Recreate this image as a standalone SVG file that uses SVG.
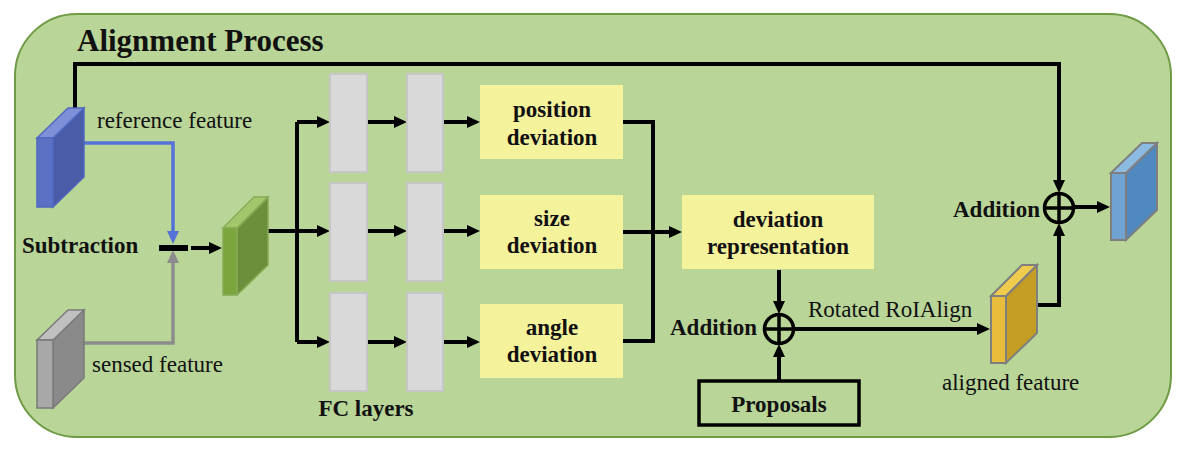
<svg xmlns="http://www.w3.org/2000/svg" width="1194" height="455" viewBox="0 0 1194 455">
<defs>
<style>
.bg{fill:#b9d598;stroke:#6f9b45;stroke-width:2}
.t{font-family:"Liberation Serif","Times New Roman",serif;font-size:23px;fill:#111}
.b{font-weight:bold}
.fc{fill:#d9d9d9;stroke:#c6c6c6;stroke-width:2}
.yb{fill:#f5f29c}
.ln{fill:none;stroke:#000;stroke-width:4}
.arr{marker-end:url(#ah)}
.circ{fill:none;stroke:#000;stroke-width:3.5}
</style>
<marker id="ah" markerUnits="userSpaceOnUse" markerWidth="14" markerHeight="12" refX="2" refY="6" orient="auto"><path d="M0,0 L13,6 L0,12 z" fill="#000"/></marker>
<marker id="ahb" markerUnits="userSpaceOnUse" markerWidth="14" markerHeight="12" refX="2" refY="6" orient="auto"><path d="M0,0 L13,6 L0,12 z" fill="#5573d6"/></marker>
<marker id="ahg" markerUnits="userSpaceOnUse" markerWidth="14" markerHeight="12" refX="2" refY="6" orient="auto"><path d="M0,0 L13,6 L0,12 z" fill="#8c8c8c"/></marker>
</defs>

<rect class="bg" x="15" y="14" width="1156" height="423" rx="62" ry="62"/>
<text class="t b" x="77" y="51" style="font-size:31px">Alignment Process</text>

<g id="connectors">
<path class="ln arr" d="M75,108 V64 H1059 V182"/>
<path fill="none" stroke="#5573d6" stroke-width="3.5" marker-end="url(#ahb)" d="M84,143 H173 V233"/>
<path fill="none" stroke="#8c8c8c" stroke-width="3.5" marker-end="url(#ahg)" d="M84,343 H173 V261"/>
<rect x="159" y="245" width="29" height="6" fill="#000"/>
<path class="ln arr" d="M191,248 H211"/>
<path class="ln" d="M268,231 H297 M297,122 V342"/>
<path class="ln arr" d="M297,122 H319"/>
<path class="ln arr" d="M297,231 H319"/>
<path class="ln arr" d="M297,342 H319"/>
<path class="ln arr" d="M367,122 H396"/>
<path class="ln arr" d="M367,231 H396"/>
<path class="ln arr" d="M367,342 H396"/>
<path class="ln arr" d="M443,122 H469"/>
<path class="ln arr" d="M443,231 H469"/>
<path class="ln arr" d="M443,342 H469"/>
<path class="ln" d="M623,122 H653 V341 H623"/>
<path class="ln arr" d="M623,232 H671"/>
<path class="ln arr" d="M779,270 V303"/>
<path class="ln arr" d="M779,381 V355"/>
<path class="ln arr" d="M794,329 H979"/>
<path class="ln arr" d="M1037,305 H1059 V234"/>
<path class="ln arr" d="M1074,207 H1099"/>
</g>

<g id="reference-feature">
<polygon points="53,138 84,108 84,177 53,207" fill="#4a5ba8" stroke="#5068c0" stroke-width="1.5"/>
<polygon points="37,138 68,108 84,108 53,138" fill="#7d90d8" stroke="#5068c0" stroke-width="1.5"/>
<rect x="37" y="138" width="16" height="69" fill="#5b72c4" stroke="#5068c0" stroke-width="1.5"/>
<text class="t" x="97" y="128">reference feature</text>
</g>

<g id="sensed-feature">
<polygon points="53,340 84,310 84,378 53,408" fill="#8a8a8a" stroke="#7a7a7a" stroke-width="1.5"/>
<polygon points="37,340 68,310 84,310 53,340" fill="#c0c0c0" stroke="#7a7a7a" stroke-width="1.5"/>
<rect x="37" y="340" width="16" height="68" fill="#a8a8a8" stroke="#7a7a7a" stroke-width="1.5"/>
<text class="t" x="92" y="372">sensed feature</text>
</g>

<g id="subtraction">
<text class="t b" x="22" y="253">Subtraction</text>
</g>

<g id="diff-feature">
<polygon points="237,228 268,197 268,265 237,295" fill="#6b8f3a" stroke="#86ab56" stroke-width="1.5"/>
<polygon points="223,228 254,197 268,197 237,228" fill="#a3c86c" stroke="#86ab56" stroke-width="1.5"/>
<rect x="223" y="228" width="14" height="67" fill="#7ba63d" stroke="#86ab56" stroke-width="1.5"/>
</g>

<g id="fc-layers">
<rect class="fc" x="330" y="74" width="37" height="98"/>
<rect class="fc" x="330" y="183" width="37" height="98"/>
<rect class="fc" x="330" y="293" width="37" height="98"/>
<rect class="fc" x="407" y="74" width="36" height="98"/>
<rect class="fc" x="407" y="183" width="36" height="98"/>
<rect class="fc" x="407" y="293" width="36" height="98"/>
<text class="t b" x="366" y="416" text-anchor="middle">FC layers</text>
</g>

<g id="position-deviation">
<rect class="yb" x="480" y="85" width="143" height="74"/>
<text class="t b" x="552" y="117" text-anchor="middle">position</text>
<text class="t b" x="552" y="145" text-anchor="middle">deviation</text>
</g>
<g id="size-deviation">
<rect class="yb" x="480" y="195" width="143" height="74"/>
<text class="t b" x="552" y="226" text-anchor="middle">size</text>
<text class="t b" x="552" y="253" text-anchor="middle">deviation</text>
</g>
<g id="angle-deviation">
<rect class="yb" x="480" y="304" width="143" height="74"/>
<text class="t b" x="552" y="335" text-anchor="middle">angle</text>
<text class="t b" x="552" y="362" text-anchor="middle">deviation</text>
</g>

<g id="deviation-representation">
<rect class="yb" x="682" y="195" width="192" height="74"/>
<text class="t b" x="778" y="227" text-anchor="middle">deviation</text>
<text class="t b" x="778" y="254" text-anchor="middle">representation</text>
</g>

<g id="addition-1">
<circle class="circ" cx="779" cy="329" r="14.5"/>
<path class="circ" d="M764.5,329 H793.5 M779,314.5 V343.5"/>
<text class="t b" x="670" y="335">Addition</text>
</g>

<g id="proposals">
<rect x="699" y="381" width="160" height="44" fill="none" stroke="#000" stroke-width="3.5"/>
<text class="t b" x="779" y="412" text-anchor="middle">Proposals</text>
</g>

<text class="t" x="808" y="317">Rotated RoIAlign</text>

<g id="aligned-feature">
<polygon points="1006,296 1037,265 1037,333 1006,363" fill="#c39d24" stroke="#7f7f7f" stroke-width="2"/>
<polygon points="991,296 1022,265 1037,265 1006,296" fill="#f0cc4e" stroke="#7f7f7f" stroke-width="2"/>
<rect x="991" y="296" width="15" height="67" fill="#e8bd3c" stroke="#7f7f7f" stroke-width="2"/>
<text class="t" x="942" y="390">aligned feature</text>
</g>

<g id="addition-2">
<circle class="circ" cx="1059" cy="208" r="14.5"/>
<path class="circ" d="M1044.5,208 H1073.5 M1059,193.5 V222.5"/>
<text class="t b" x="953" y="217">Addition</text>
</g>

<g id="output-feature">
<polygon points="1126,173 1157,143 1157,210 1126,240" fill="#5088c0" stroke="#7f7f7f" stroke-width="2"/>
<polygon points="1111,173 1142,143 1157,143 1126,173" fill="#8cbbe2" stroke="#7f7f7f" stroke-width="2"/>
<rect x="1111" y="173" width="15" height="67" fill="#70a2d2" stroke="#7f7f7f" stroke-width="2"/>
</g>
</svg>
